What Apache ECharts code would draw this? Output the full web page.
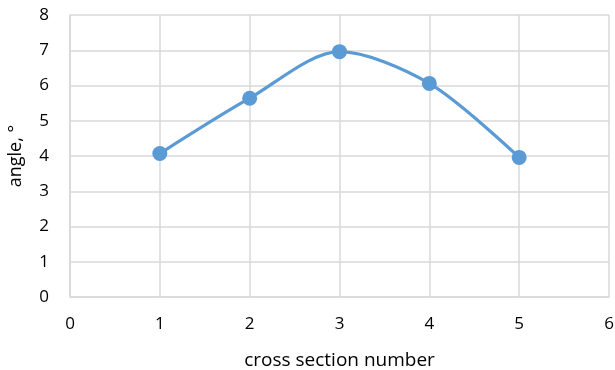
<!DOCTYPE html>
<html>
<head>
<meta charset="utf-8">
<script src="https://cdn.jsdelivr.net/npm/echarts@6/dist/echarts.min.js"></script>
<style>html,body{margin:0;padding:0;background:#fff}#c{width:615px;height:370px}</style>
</head>
<body>
<div id="c"></div>
<script>
const xValues = [1, 2, 3, 4, 5];
const angleValues = [4.07, 5.64, 6.96, 6.06, 3.96];
const xTitle = 'cross section number';
const yTitle = 'angle, °';

const chart = echarts.init(document.getElementById('c'), null, {renderer: 'canvas'});
const font = 'Open Sans';
chart.setOption({
  animation: false,
  grid: {left: 70, right: 6, top: 15, bottom: 73, containLabel: false, outerBoundsMode: 'none'},
  xAxis: {
    type: 'value', min: 0, max: 6, interval: 1,
    name: xTitle, nameLocation: 'middle', nameGap: 54,
    nameTextStyle: {fontFamily: font, fontSize: 19, color: '#000'},
    axisLine: {show: true, lineStyle: {color: '#d9d9d9', width: 1.5}},
    axisTick: {show: false},
    axisLabel: {fontFamily: font, fontSize: 17, color: '#000', margin: 19},
    splitLine: {show: true, lineStyle: {color: '#d9d9d9', width: 1.5}}
  },
  yAxis: {
    type: 'value', min: 0, max: 8, interval: 1,
    name: yTitle, nameLocation: 'middle', nameGap: 45,
    nameTextStyle: {fontFamily: font, fontSize: 18, color: '#000'},
    axisLine: {show: true, lineStyle: {color: '#d9d9d9', width: 1.5}},
    axisTick: {show: false},
    axisLabel: {fontFamily: font, fontSize: 17, color: '#000', margin: 21},
    splitLine: {show: true, lineStyle: {color: '#d9d9d9', width: 1.5}}
  },
  series: [{
    type: 'line',
    data: xValues.map((x, i) => [x, angleValues[i]]),
    smooth: 0.3,
    symbol: 'circle', symbolSize: 15,
    lineStyle: {color: '#5b9bd5', width: 3.2},
    itemStyle: {color: '#5b9bd5'}
  }]
});
</script>
</body>
</html>
